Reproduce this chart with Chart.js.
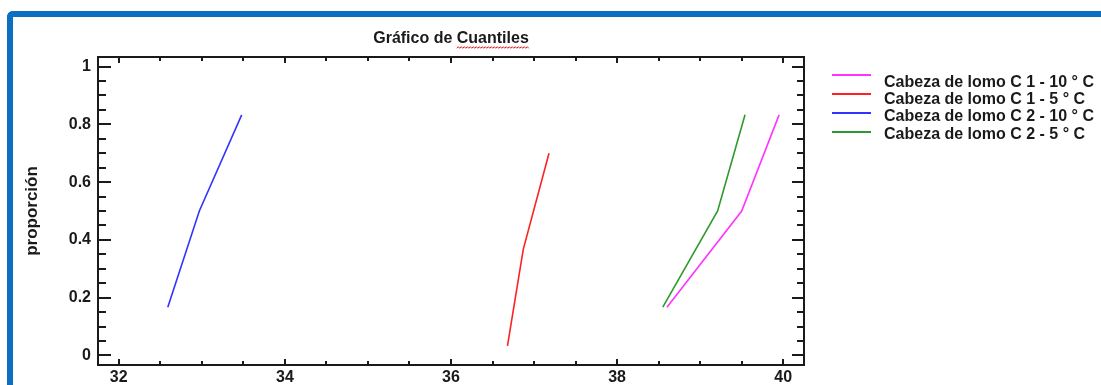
<!DOCTYPE html>
<html><head><meta charset="utf-8">
<script src="https://cdn.jsdelivr.net/npm/chart.js@4/dist/chart.umd.min.js"></script>
<style>
html,body{margin:0;padding:0;background:#fff;overflow:hidden;width:1101px;height:385px;}
#frame{position:absolute;left:7px;top:11px;width:1300px;height:600px;border-top:6px solid #0b70c2;border-left:6px solid #0b70c2;border-top-left-radius:6px;box-sizing:border-box;}
canvas{position:absolute;left:0;top:0;}
</style></head><body>
<div id="frame"></div>
<canvas id="c" width="1101" height="385"></canvas>
<script>
// ---- data ----
const chartTitle = 'Gráfico de Cuantiles';
const yAxisTitle = 'proporción';
const seriesNames = [
  'Cabeza de lomo C 1 - 10 ° C',
  'Cabeza de lomo C 1 - 5 ° C',
  'Cabeza de lomo C 2 - 10 ° C',
  'Cabeza de lomo C 2 - 5 ° C'
];
const seriesColors = ['#ff33ff', '#ff2222', '#3333ff', '#2e9a2e'];
const c1_10_x = [38.60, 39.50, 39.95];
const c1_10_y = [0.167, 0.500, 0.833];
const c1_5_x  = [36.68, 36.87, 37.18];
const c1_5_y  = [0.033, 0.367, 0.700];
const c2_10_x = [32.59, 32.97, 33.48];
const c2_10_y = [0.167, 0.500, 0.833];
const c2_5_x  = [38.55, 39.21, 39.54];
const c2_5_y  = [0.167, 0.500, 0.833];
const xTicks = [32, 34, 36, 38, 40];
const xTickLabels = ['32', '34', '36', '38', '40'];
const yTicks = [0, 0.2, 0.4, 0.6, 0.8, 1];
const yTickLabels = ['0', '0.2', '0.4', '0.6', '0.8', '1'];
const xMinorStep = 0.5;
const yMinorStep = 0.05;

const seriesX = [c1_10_x, c1_5_x, c2_10_x, c2_5_x];
const seriesY = [c1_10_y, c1_5_y, c2_10_y, c2_5_y];

const FONT = 'Liberation Sans, Arial, sans-serif';
const INK = '#1a1a1a';

function minorValues(min, max, step, majors) {
  const out = [];
  const start = Math.ceil(min / step - 1e-9);
  const end = Math.floor(max / step + 1e-9);
  for (let k = start; k <= end; k++) {
    const v = +(k * step).toFixed(6);
    if (!majors.some(m => Math.abs(m - v) < 1e-6)) out.push(v);
  }
  return out;
}

const decor = {
  id: 'decor',
  afterDraw(chart) {
    const ctx = chart.ctx, a = chart.chartArea;
    const xs = chart.scales.x, ys = chart.scales.y;
    ctx.save();
    ctx.strokeStyle = INK;
    ctx.lineWidth = 2;
    ctx.beginPath();
    const xMin = minorValues(xs.min, xs.max, xMinorStep, xTicks);
    const yMin = minorValues(ys.min, ys.max, yMinorStep, yTicks);
    const vt = (v, len) => {
      const p = Math.round(xs.getPixelForValue(v));
      ctx.moveTo(p, a.bottom); ctx.lineTo(p, a.bottom - len);
      ctx.moveTo(p, a.top); ctx.lineTo(p, a.top + len);
    };
    const ht = (v, lenL, lenR) => {
      const p = Math.round(ys.getPixelForValue(v));
      ctx.moveTo(a.left, p); ctx.lineTo(a.left + lenL, p);
      ctx.moveTo(a.right, p); ctx.lineTo(a.right - lenR, p);
    };
    xTicks.forEach(v => vt(v, 6));
    xMin.forEach(v => vt(v, 4));
    yTicks.forEach(v => ht(v, 13, 12));
    yMin.forEach(v => ht(v, 8, 7));
    ctx.stroke();
    ctx.strokeRect(a.left, a.top, a.right - a.left, a.bottom - a.top);

    // title
    ctx.fillStyle = INK;
    ctx.font = 'bold 16px ' + FONT;
    ctx.textBaseline = 'middle';
    ctx.textAlign = 'left';
    const cx = (a.left + a.right) / 2;
    const tw = ctx.measureText(chartTitle).width;
    const tx = cx - tw / 2;
    ctx.fillText(chartTitle, tx, 39);
    // spell-check squiggle under the last word
    const lastWord = chartTitle.split(' ').pop();
    const sx = tx + ctx.measureText(chartTitle.slice(0, chartTitle.length - lastWord.length)).width;
    const ex = tx + tw;
    ctx.strokeStyle = '#e02020';
    ctx.lineWidth = 1;
    ctx.beginPath();
    for (let x = sx, i = 0; x <= ex; x += 1.5, i++) {
      const y = 47.5 + (i % 2 ? -0.8 : 0.8);
      if (i === 0) ctx.moveTo(x, y); else ctx.lineTo(x, y);
    }
    ctx.stroke();

    // legend
    ctx.font = 'bold 16px ' + FONT;
    ctx.textBaseline = 'middle';
    chart.data.datasets.forEach((ds, i) => {
      const ly = 75 + i * 19;
      ctx.strokeStyle = ds.borderColor;
      ctx.lineWidth = 2;
      ctx.beginPath();
      ctx.moveTo(832, ly); ctx.lineTo(871, ly);
      ctx.stroke();
      ctx.fillStyle = INK;
      ctx.fillText(ds.label, 884, 82.5 + i * 17.2);
    });
    ctx.restore();
  }
};

const datasets = seriesNames.map((name, i) => ({
  label: name,
  data: seriesX[i].map((x, j) => ({ x: x, y: seriesY[i][j] })),
  borderColor: seriesColors[i],
  backgroundColor: seriesColors[i],
  borderWidth: 1.6,
  pointRadius: 0,
  showLine: true,
  tension: 0
}));

new Chart(document.getElementById('c'), {
  type: 'scatter',
  data: { datasets: datasets },
  options: {
    responsive: false,
    animation: false,
    devicePixelRatio: 1,
    layout: { padding: { top: 57, right: 297, left: 0, bottom: 0 } },
    plugins: { legend: { display: false }, title: { display: false }, tooltip: { enabled: false } },
    scales: {
      x: {
        type: 'linear', min: 31.75, max: 40.25,
        afterBuildTicks: s => { s.ticks = xTicks.map(v => ({ value: v })); },
        afterFit: s => { s.height = 20; },
        grid: { display: false, drawTicks: false }, border: { display: false },
        ticks: {
          padding: 3, color: INK, autoSkip: false, maxRotation: 0,
          font: { family: FONT, size: 16, weight: 'bold' },
          callback: (v, i) => xTickLabels[i]
        }
      },
      y: {
        type: 'linear', min: -0.0333, max: 1.0333,
        afterBuildTicks: s => { s.ticks = yTicks.map(v => ({ value: v })); },
        afterFit: s => { s.width = 98; },
        grid: { display: false, drawTicks: false }, border: { display: false },
        title: {
          display: true, text: yAxisTitle, color: INK,
          font: { family: FONT, size: 17, weight: 'bold' },
          padding: { top: 22, bottom: 0 }
        },
        ticks: {
          padding: 7, color: INK, autoSkip: false,
          font: { family: FONT, size: 16, weight: 'bold' },
          callback: (v, i) => yTickLabels[i]
        }
      }
    }
  },
  plugins: [decor]
});
</script>
</body></html>
